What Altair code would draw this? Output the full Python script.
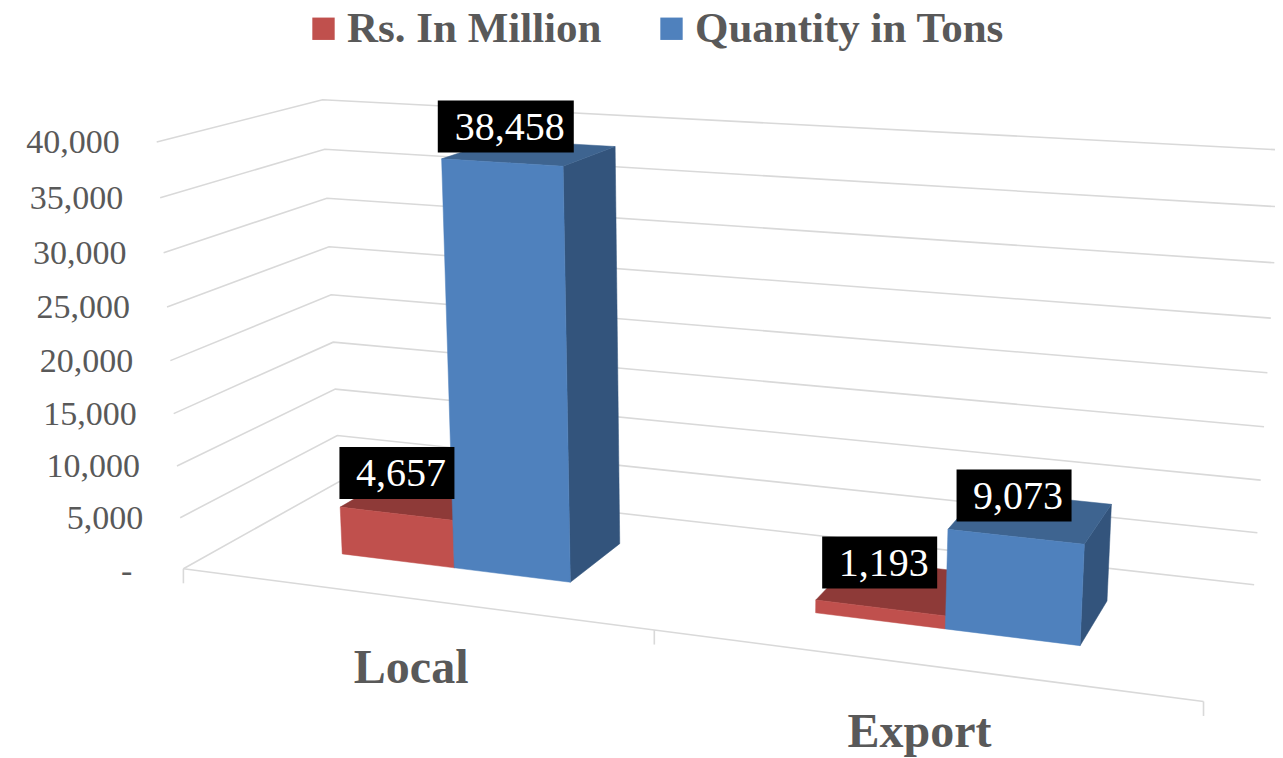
import altair as alt
import numpy as np
import pandas as pd

categories = ["Local", "Export"]
series = ["Rs. In Million", "Quantity in Tons"]
rs_million = [4657, 1193]
quantity_tons = [38458, 9073]
value_ticks = [0, 5000, 10000, 15000, 20000, 25000, 30000, 35000, 40000]
value_tick_labels = ["-", "5,000", "10,000", "15,000", "20,000", "25,000", "30,000", "35,000", "40,000"]
value_labels = ["4,657", "1,193", "38,458", "9,073"]

FONT = "Liberation Serif"
GREY = "#595959"
W, H = 1267, 750
VMAX = 40000.0
D0, D1 = 0.3, 0.7

# View model of the 3D chart box: (along categories, depth, value) -> page position
calibration = [
    (0, 0, 0, 184.5, 569), (0, 0, 5000, 180, 517.3), (0, 0, 10000, 176.3, 466), (0, 0, 15000, 173.5, 413.7),
    (0, 0, 20000, 170, 361), (0, 0, 25000, 167, 307), (0, 0, 30000, 163, 253), (0, 0, 35000, 160, 198), (0, 0, 40000, 157, 142),
    (0, 1, 5000, 337, 435.7), (0, 1, 10000, 335.5, 389.3), (0, 1, 15000, 333, 342), (0, 1, 20000, 331.4, 294.7),
    (0, 1, 25000, 329.5, 246.7), (0, 1, 30000, 326.5, 198), (0, 1, 35000, 324.5, 149), (0, 1, 40000, 323, 100),
    (1, 1, 0, 1254, 585), (1, 1, 5000, 1258, 533), (1, 1, 10000, 1261, 480), (1, 1, 15000, 1264, 427), (1, 1, 20000, 1267, 373),
    (1, 1, 25000, 1271, 318), (1, 1, 30000, 1274, 263), (1, 1, 35000, 1278, 207), (1, 1, 40000, 1281, 149),
    (1, 0, 0, 1203.5, 701), (0.5, 0, 0, 655, 631),
    (.25, .3, 0, 454, 567.7), (.375, .3, 0, 570.6, 581.7), (.375, .7, 0, 619.6, 543),
    (.25, .3, 38458, 442, 159), (.375, .3, 38458, 563.7, 166), (.375, .7, 38458, 615, 146.7),
    (.125, .3, 0, 342, 553.7), (.125, .3, 4657, 340.4, 507.3), (.25, .3, 4657, 453, 520),
    (.75, .3, 0, 945, 629), (.875, .3, 0, 1080.6, 645.3), (.875, .7, 0, 1107, 601.7),
    (.75, .3, 9073, 948, 529), (.875, .3, 9073, 1084.7, 544), (.875, .7, 9073, 1111, 505),
    (.625, .3, 0, 815.4, 612.7), (.625, .3, 1193, 815.4, 600), (.75, .3, 1193, 945, 615.7),
]
A, b = [], []
for u, d, v, X, Y in calibration:
    w = v / VMAX
    A.append([u, d, w, 1, 0, 0, 0, 0, -X * u, -X * d, -X * w]); b.append(X)
    A.append([0, 0, 0, 0, u, d, w, 1, -Y * u, -Y * d, -Y * w]); b.append(Y)
p = np.linalg.lstsq(np.array(A, float), np.array(b, float), rcond=None)[0]
P = np.append(p, 1.0).reshape(3, 4)


def proj(u, d, v):
    q = P @ np.array([u, d, v / VMAX, 1.0])
    return float(q[0] / q[2]), float(q[1] / q[2])


# Grid lines and floor ticks
lines = []
for v in value_ticks:
    for i, (u, d) in enumerate([(0, 0), (0, 1), (1, 1)]):
        x, y = proj(u, d, v)
        lines.append(dict(seg=f"g{v}", i=i, x=x, y=y))
for i, u in enumerate([0, 1]):
    x, y = proj(u, 0, 0)
    lines.append(dict(seg="floor", i=i, x=x, y=y))
for t, u in enumerate([0, 0.5, 1]):
    x, y = proj(u, 0, 0)
    lines.append(dict(seg=f"t{t}", i=0, x=x, y=y))
    lines.append(dict(seg=f"t{t}", i=1, x=x, y=y + 14.5))
lines = pd.DataFrame(lines)

# Bar faces
palette = {
    "Rs. In Million": dict(front="#C0504D", top="#8E3A38", side="#7E3331"),
    "Quantity in Tons": dict(front="#4F81BD", top="#3E6490", side="#33547C"),
}
faces = []
fid = 0


def add_face(color, corners, s):
    global fid
    for i, c in enumerate(corners):
        x, y = proj(*c)
        faces.append(dict(face=fid, i=i, x=x, y=y, color=color, series=s))
    fid += 1


for c_i in range(2):
    for s_i, (s, vals) in enumerate(zip(series, [rs_million, quantity_tons])):
        v = vals[c_i]
        u0 = (c_i * 4 + s_i + 1) / 8
        u1 = u0 + 1 / 8
        pal = palette[s]
        add_face(pal["side"], [(u1, D0, 0), (u1, D1, 0), (u1, D1, v), (u1, D0, v)], s)
        add_face(pal["top"], [(u0, D0, v), (u1, D0, v), (u1, D1, v), (u0, D1, v)], s)
        add_face(pal["front"], [(u0, D0, 0), (u1, D0, 0), (u1, D0, v), (u0, D0, v)], s)
faces = pd.DataFrame(faces)

# Value tick labels
axis_rows = []
for v, lab in zip(value_ticks, value_tick_labels):
    x, y = proj(0, 0, v)
    axis_rows.append(dict(x=x - (51 if v == 0 else 37), y=y + (3 if v == 0 else 1), label=lab))
axis_rows = pd.DataFrame(axis_rows)

# Category labels
cat_rows = []
for c_i, (name, off, dy) in enumerate(zip(categories, [1, 1.5], [84.5, 83])):
    x, y = proj(0.25 + c_i * 0.5, 0, 0)
    cat_rows.append(dict(x=x + off, y=y + dy, label=name))
cat_rows = pd.DataFrame(cat_rows)

# Data labels on black boxes
box_rows = []
tops = [
    (0.1875, rs_million[0], 115, -28, -23),
    (0.6875, rs_million[1], 115, -19, -24),
    (0.3125, quantity_tons[0], 136, -24, -26),
    (0.8125, quantity_tons[1], 115, -17, -21),
]
for (u, v, bw, ox, oy), lab in zip(tops, value_labels):
    x, y = proj(u, 0.5, v)
    cx, cy = x + ox, y + oy
    box_rows.append(dict(x=cx - bw / 2, x2=cx + bw / 2, y=cy - 26, y2=cy + 26, tx=cx + 4, ty=cy + 1, label=lab))
box_rows = pd.DataFrame(box_rows)

xs = alt.Scale(domain=[8, 8 + W], range=[0, W], nice=False, zero=False)
ys = alt.Scale(domain=[8 + H, 8], range=[H, 0], nice=False, zero=False)
X = alt.X("x:Q", scale=xs, axis=None)
Y = alt.Y("y:Q", scale=ys, axis=None)

grid = alt.Chart(lines).mark_line(color="#D9D9D9", strokeWidth=1.6, clip=True).encode(X, Y, detail="seg:N", order="i:Q")

polys = alt.Chart(faces).mark_line(interpolate="linear-closed", strokeWidth=0.5).encode(
    X, Y, detail="face:Q", order="i:Q",
    fill=alt.Fill("color:N", scale=None),
    stroke=alt.Stroke("color:N", scale=None),
)

legend_src = pd.DataFrame({"series": series})
legend_layer = alt.Chart(legend_src).mark_point(shape="square", filled=True, size=0, opacity=0).encode(
    x=alt.value(-50), y=alt.value(-50),
    color=alt.Color(
        "series:N",
        scale=alt.Scale(domain=series, range=["#C0504D", "#4F81BD"]),
        legend=alt.Legend(
            title=None, orient="none", legendX=294, legendY=-1, direction="horizontal", columns=2,
            symbolType="square", symbolSize=500, symbolOpacity=1, symbolStrokeWidth=0,
            labelFont=FONT, labelFontSize=43, labelFontWeight="bold", labelColor=GREY,
            labelOffset=2, columnPadding=48, labelLimit=500,
        ),
    ),
)

axis_text = alt.Chart(axis_rows).mark_text(font=FONT, fontSize=34, color=GREY, align="right", baseline="middle").encode(X, Y, text="label:N")
cat_text = alt.Chart(cat_rows).mark_text(font=FONT, fontSize=48, fontWeight="bold", color=GREY, align="center", baseline="alphabetic").encode(X, Y, text="label:N")
boxes = alt.Chart(box_rows).mark_rect(color="#000000").encode(X, Y, x2="x2:Q", y2="y2:Q")
box_text = alt.Chart(box_rows).mark_text(font=FONT, fontSize=40, color="#FFFFFF", align="center", baseline="middle").encode(
    alt.X("tx:Q", scale=xs, axis=None), alt.Y("ty:Q", scale=ys, axis=None), text="label:N")

chart = alt.layer(grid, polys, legend_layer, axis_text, cat_text, boxes, box_text).properties(
    width=W, height=H, padding=0, autosize=alt.AutoSizeParams(type="none"), background="#FFFFFF",
).configure_view(stroke=None)

chart.save("out.html", embed_options={"renderer": "svg", "actions": False})
